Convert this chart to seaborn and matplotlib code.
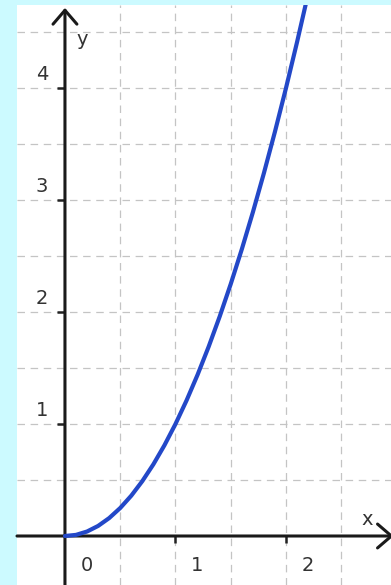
import numpy as np
import pandas as pd
import seaborn as sns
import matplotlib
matplotlib.use('Agg')
import matplotlib.pyplot as plt

# curve points (y = x squared shape)
x_vals = [0.0, 0.1, 0.2, 0.3, 0.4, 0.5, 0.6, 0.7, 0.8, 0.9, 1.0, 1.1,
          1.2, 1.3, 1.4, 1.5, 1.6, 1.7, 1.8, 1.9, 2.0, 2.1, 2.2]
y_vals = [0.0, 0.01, 0.04, 0.09, 0.16, 0.25, 0.36, 0.49, 0.64, 0.81, 1.0, 1.21,
          1.44, 1.69, 1.96, 2.25, 2.56, 2.89, 3.24, 3.61, 4.0, 4.41, 4.84]

x_ticks = [1, 2]
x_ticklabels = ["1", "2"]
y_ticks = [1, 2, 3, 4]
y_ticklabels = ["1", "2", "3", "4"]

df = pd.DataFrame({"x": x_vals, "y": y_vals})

sns.set_style("white")
plt.rcParams['font.family'] = ['DejaVu Sans']

fig = plt.figure(figsize=(3.91, 5.85), dpi=100, facecolor='#ccfaff')
ax = fig.add_axes([17 / 391, 0, 374 / 391, 580 / 585])
ax.set_facecolor('white')

xmin, xmax = -0.434, 2.95
ymin, ymax = -0.4375, 4.741
ax.set_xlim(xmin, xmax)
ax.set_ylim(ymin, ymax)

for s in ax.spines.values():
    s.set_visible(False)
ax.spines['left'].set_position(('data', 0))
ax.spines['bottom'].set_position(('data', 0))
ax.set_xticks(x_ticks)
ax.set_yticks(y_ticks)
ax.set_xticklabels([])
ax.set_yticklabels([])

# grid every half unit
ax.set_xticks(np.arange(0.5, 3, 1.0), minor=True)
ax.set_yticks(np.arange(0.5, 5, 1.0), minor=True)
ax.grid(which='both', color='#c4c4c4', lw=0.9, linestyle=(0, (6, 4.5)), zorder=0)
ax.tick_params(which='minor', length=0)
ax.tick_params(which='major', left=True, bottom=True, direction='out',
               length=5, width=1.8, color='#222222')
ax.tick_params(axis='y', which='major', length=6)

# axes with arrows
arrow = dict(arrowstyle='->,head_length=0.5,head_width=0.43', lw=2.2,
             color='#1a1a1a', mutation_scale=20, shrinkA=0, shrinkB=0)
ax.annotate('', xy=(0, 4.715), xytext=(0, ymin), arrowprops=arrow,
            annotation_clip=False, zorder=4)
ax.annotate('', xy=(2.975, 0), xytext=(xmin, 0), arrowprops=arrow,
            annotation_clip=False, zorder=4)

sns.lineplot(data=df, x="x", y="y", ax=ax, color='#2348c8', lw=3,
             solid_capstyle='round', zorder=5)
ax.set_xlabel('')
ax.set_ylabel('')

txt = dict(fontsize=14, color='#333333', ha='center', va='center',
           textcoords='offset points')
for v, lab in zip(x_ticks, x_ticklabels):
    ax.annotate(lab, (v, 0), xytext=(15.5, -21), **txt)
for v, lab in zip(y_ticks, y_ticklabels):
    ax.annotate(lab, (0, v), xytext=(-16.5, 9.5), **txt)
ax.annotate("0", (0, 0), xytext=(16, -21), **txt)
ax.text(2.733, 0.15, "x", fontsize=14, color='#333333', ha='center', va='center')
ax.text(0.155, 4.43, "y", fontsize=14, color='#333333', ha='center', va='center')

fig.savefig('out.png', dpi=100, facecolor=fig.get_facecolor())
